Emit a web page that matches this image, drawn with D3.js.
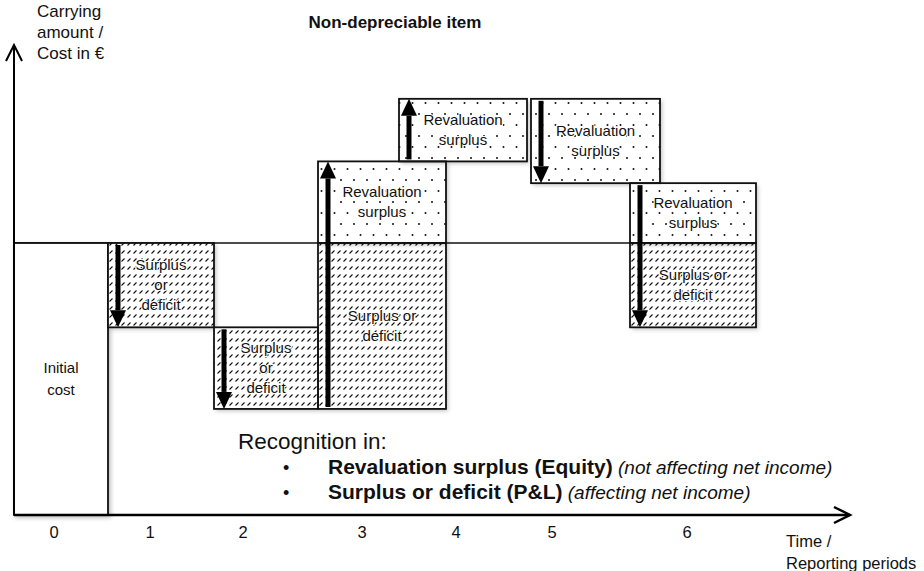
<!DOCTYPE html>
<html>
<head>
<meta charset="utf-8">
<script src="https://cdn.jsdelivr.net/npm/d3@7"></script>
<style>
  body { margin: 0; background: #fff; }
  svg text { font-family: "Liberation Sans", Arial, sans-serif; fill: #111; }
</style>
</head>
<body>
<script>
// periods on the time axis, where the tick label sits and how wide each period box is
const periods = ["0", "1", "2", "3", "4", "5", "6"];
const tickAt = [0.40, 1.36, 2.29, 3.48, 4.42, 5.38, 6.73];
const boxStart = [0, 0.94, 2.00, 3.04, 3.85, 5.17, 6.16];
const boxEnd = [0.94, 2.00, 3.04, 4.32, 5.13, 6.46, 7.42];

// carrying amount before and after each revaluation (initial cost = 100)
const initialCost = 100;
const valueBefore = [0, 100, 69, 39, 130, 153, 122];
const valueAfter = [100, 69, 39, 130, 153, 122, 69];

const legendItems = [
  ["Revaluation surplus (Equity)", "(not affecting net income)"],
  ["Surplus or deficit (P&L)", "(affecting net income)"]
];

const W = 924, H = 571;
const x0 = 14, yBase = 515;

let x = d3.scaleLinear().domain([0, 8.36]).range([x0, 850]);
let y = d3.scaleLinear().domain([0, initialCost]).range([yBase, 243]);

let svg = d3.select("body").append("svg")
  .attr("width", W).attr("height", H);

let defs = svg.append("defs");

// hatched pattern for surplus or deficit
let hatch = defs.append("pattern")
  .attr("id", "hatch").attr("patternUnits", "userSpaceOnUse")
  .attr("width", 6).attr("height", 8);
hatch.append("line")
  .attr("x1", 1.5).attr("y1", 5.5).attr("x2", 4.5).attr("y2", 2.5)
  .attr("stroke", "#111").attr("stroke-width", 1.1);

// dotted pattern for revaluation surplus
let dots = defs.append("pattern")
  .attr("id", "dots").attr("patternUnits", "userSpaceOnUse")
  .attr("width", 13).attr("height", 22);
dots.append("circle").attr("cx", 3).attr("cy", 4).attr("r", 1).attr("fill", "#111");
dots.append("circle").attr("cx", 9.5).attr("cy", 15).attr("r", 1).attr("fill", "#111");

let shadow = defs.append("filter").attr("id", "shadow")
  .attr("x", "-10%").attr("y", "-10%").attr("width", "130%").attr("height", "130%");
shadow.append("feDropShadow")
  .attr("dx", 2).attr("dy", 2).attr("stdDeviation", 2)
  .attr("flood-color", "#000").attr("flood-opacity", 0.25);

// build segments from the data
let segs = [];
for (let i = 1; i < periods.length; i++) {
  let lo = Math.min(valueBefore[i], valueAfter[i]);
  let hi = Math.max(valueBefore[i], valueAfter[i]);
  if (lo < initialCost) segs.push({i: i, lo: lo, hi: Math.min(hi, initialCost), kind: "pl"});
  if (hi > initialCost) segs.push({i: i, lo: Math.max(lo, initialCost), hi: hi, kind: "reval"});
}

// reference line at initial cost
svg.append("line")
  .attr("x1", x(0)).attr("x2", x(boxEnd[6]))
  .attr("y1", y(initialCost)).attr("y2", y(initialCost))
  .attr("stroke", "#111").attr("stroke-width", 1.5);

// initial cost box
svg.append("rect")
  .attr("x", x(boxStart[0])).attr("y", y(valueAfter[0]))
  .attr("width", x(boxEnd[0]) - x(boxStart[0]))
  .attr("height", y(valueBefore[0]) - y(valueAfter[0]))
  .attr("fill", "#fff").attr("stroke", "#111").attr("stroke-width", 1.8)
  .attr("filter", "url(#shadow)");

svg.append("text")
  .attr("x", (x(boxStart[0]) + x(boxEnd[0])) / 2).attr("y", 373)
  .attr("text-anchor", "middle").style("font-size", "15px")
  .selectAll("tspan").data(["Initial", "cost"]).join("tspan")
  .attr("x", (x(boxStart[0]) + x(boxEnd[0])) / 2)
  .attr("dy", (d, k) => k ? 22 : 0)
  .text(d => d);

// period boxes: white with shadow, then the pattern and border
svg.selectAll("rect.seg").data(segs).join("rect")
  .attr("class", "seg")
  .attr("x", d => x(boxStart[d.i]))
  .attr("y", d => y(d.hi))
  .attr("width", d => x(boxEnd[d.i]) - x(boxStart[d.i]))
  .attr("height", d => y(d.lo) - y(d.hi))
  .attr("fill", "#fff")
  .attr("filter", "url(#shadow)");

svg.selectAll("rect.fill").data(segs).join("rect")
  .attr("class", "fill")
  .attr("x", d => x(boxStart[d.i]))
  .attr("y", d => y(d.hi))
  .attr("width", d => x(boxEnd[d.i]) - x(boxStart[d.i]))
  .attr("height", d => y(d.lo) - y(d.hi))
  .attr("fill", d => d.kind == "pl" ? "url(#hatch)" : "url(#dots)")
  .attr("stroke", "#111").attr("stroke-width", 1.8);

// labels inside boxes
function labelLines(d) {
  if (d.kind == "reval") return ["Revaluation", "surplus"];
  let w = x(boxEnd[d.i]) - x(boxStart[d.i]);
  return w < 115 ? ["Surplus", "or", "deficit"] : ["Surplus or", "deficit"];
}

svg.selectAll("text.seg").data(segs).join("text")
  .attr("class", "seg")
  .attr("text-anchor", "middle")
  .style("font-size", "15px")
  .each(function(d) {
    let lines = labelLines(d);
    let cx = (x(boxStart[d.i]) + x(boxEnd[d.i])) / 2;
    let cy = (y(d.lo) + y(d.hi)) / 2 + 5 - (lines.length - 1) * 10;
    d3.select(this).selectAll("tspan").data(lines).join("tspan")
      .attr("x", cx)
      .attr("y", (t, k) => cy + k * 20)
      .attr("stroke", "#fff").attr("stroke-width", 2)
      .attr("paint-order", "stroke")
      .text(t => t);
  });

// thick arrows showing the change in each period
for (let i = 1; i < periods.length; i++) {
  let ax = x(boxStart[i]) + 10;
  let ya = y(valueBefore[i]), yb = y(valueAfter[i]);
  let dir = yb > ya ? 1 : -1;
  let head = 17;
  svg.append("line")
    .attr("x1", ax).attr("x2", ax)
    .attr("y1", ya + dir * 2).attr("y2", yb - dir * head)
    .attr("stroke", "#000").attr("stroke-width", 5);
  svg.append("path")
    .attr("d", `M${ax - 8},${yb - dir * head} L${ax + 8},${yb - dir * head} L${ax},${yb} Z`)
    .attr("fill", "#000");
}

// axes with open arrow heads
svg.append("line")
  .attr("x1", x0).attr("x2", x0).attr("y1", yBase).attr("y2", 45)
  .attr("stroke", "#000").attr("stroke-width", 2);
svg.append("path")
  .attr("d", `M${x0 - 8},${61} L${x0},${45} L${x0 + 8},${61}`)
  .attr("fill", "none").attr("stroke", "#000").attr("stroke-width", 2);

svg.append("line")
  .attr("x1", x0).attr("x2", 850).attr("y1", yBase).attr("y2", yBase)
  .attr("stroke", "#000").attr("stroke-width", 2.5);
svg.append("path")
  .attr("d", `M${834},${yBase - 8} L${850},${yBase} L${834},${yBase + 8}`)
  .attr("fill", "none").attr("stroke", "#000").attr("stroke-width", 2.5);

// tick labels
svg.selectAll("text.tick").data(periods).join("text")
  .attr("class", "tick")
  .attr("x", (d, i) => x(tickAt[i])).attr("y", 538)
  .attr("text-anchor", "middle").style("font-size", "16.5px")
  .text(d => d);

// axis titles
svg.append("text").attr("x", 37).attr("y", 17).style("font-size", "17px")
  .selectAll("tspan").data(["Carrying", "amount /", "Cost in €"]).join("tspan")
  .attr("x", 37).attr("dy", (d, k) => k ? 21 : 0).text(d => d);

svg.append("text").attr("x", 786).attr("y", 547).style("font-size", "16.5px")
  .selectAll("tspan").data(["Time /", "Reporting periods"]).join("tspan")
  .attr("x", 786).attr("dy", (d, k) => k ? 22 : 0).text(d => d);

// title
svg.append("text").attr("x", 395).attr("y", 28)
  .attr("text-anchor", "middle")
  .style("font-size", "17px").style("font-weight", "bold")
  .text("Non-depreciable item");

// recognition note
svg.append("text").attr("x", 238).attr("y", 449).style("font-size", "22.5px")
  .text("Recognition in:");

let leg = svg.selectAll("g.leg").data(legendItems).join("g")
  .attr("class", "leg")
  .attr("transform", (d, i) => `translate(0,${474 + i * 25})`);
leg.append("text").attr("x", 283).style("font-size", "18px").text("•");
leg.append("text").attr("x", 328)
  .each(function(d) {
    let t = d3.select(this);
    t.append("tspan").style("font-weight", "bold").style("font-size", "21px").text(d[0]);
    t.append("tspan").style("font-style", "italic").style("font-size", "19px").text(" " + d[1]);
  });
</script>
</body>
</html>
